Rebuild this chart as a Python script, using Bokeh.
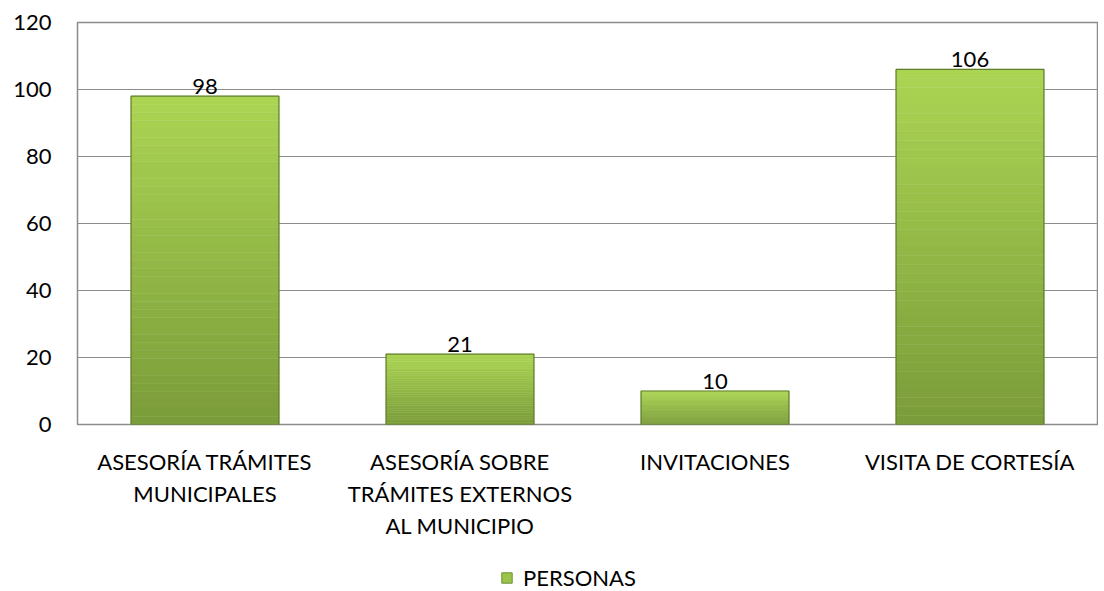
from bokeh.plotting import figure
from bokeh.layouts import column
from bokeh.models import ColumnDataSource, Legend, LegendItem, FactorRange, Range1d, FixedTicker
from bokeh.embed import file_html
from bokeh.resources import INLINE
from bokeh.core.properties import value
import numpy as np

categories = ["ASESORÍA TRÁMITES\nMUNICIPALES",
              "ASESORÍA SOBRE\nTRÁMITES EXTERNOS\nAL MUNICIPIO",
              "INVITACIONES",
              "VISITA DE CORTESÍA"]
values = [98, 21, 10, 106]
series_name = "PERSONAS"
y_ticks = [0, 20, 40, 60, 80, 100, 120]

FONT = "Lato"
TOP_RGB = np.array([0xAC, 0xD5, 0x54])
BOT_RGB = np.array([0x7B, 0x9C, 0x3A])

p = figure(x_range=FactorRange(factors=categories, range_padding=0),
           y_range=Range1d(0, 120),
           width=1098, height=560, output_backend="svg", toolbar_location=None,
           min_border_left=77, min_border_top=22, min_border_right=1,
           min_border_bottom=136)

# gradient bars built as slices of each bar
n = 40
xs, bots, tops, cols = [], [], [], []
for c, v in zip(categories, values):
    for i in range(n):
        xs.append(c)
        bots.append(v * i / n)
        tops.append(v * (i + 1) / n)
        t = (i + 0.5) / n
        rgb = (BOT_RGB * (1 - t) + TOP_RGB * t).astype(int)
        cols.append("#%02x%02x%02x" % tuple(rgb))
src = ColumnDataSource(dict(x=xs, bottom=bots, top=tops, color=cols))
p.vbar(x="x", bottom="bottom", top="top", width=0.58, source=src,
       fill_color="color", line_color="color", line_width=0.5)

# outline of each bar
bsrc = ColumnDataSource(dict(x=categories, top=values, lab=[str(v) for v in values]))
p.vbar(x="x", top="top", width=0.58, source=bsrc, fill_color=None,
       line_color="#5F7D2A", line_width=1.2)

p.text(x="x", y="top", text="lab", source=bsrc, text_align="center",
       text_baseline="bottom", text_font=value(FONT), text_font_size="22px",
       text_color="#000000", y_offset=-2)

p.yaxis.ticker = FixedTicker(ticks=y_ticks)
p.ygrid.ticker = FixedTicker(ticks=y_ticks)
p.ygrid.grid_line_color = "#8C8C8C"
p.xgrid.grid_line_color = None
p.outline_line_color = "#8C8C8C"
p.outline_line_width = 1.5

for ax in (p.xaxis, p.yaxis):
    ax.axis_line_color = None
    ax.major_tick_line_color = None
    ax.minor_tick_line_color = None
    ax.major_tick_out = 0
    ax.major_tick_in = 0
    ax.minor_tick_out = 0
    ax.major_label_text_font = FONT
    ax.major_label_text_font_size = "22px"
    ax.major_label_text_color = "#000000"

p.yaxis.major_label_standoff = 26
p.xaxis.major_label_standoff = 23

# legend strip below the chart (its swatch renderer lies outside the strip's visible range)
lp = figure(x_range=FactorRange(factors=categories), y_range=Range1d(1000, 1100),
            width=1098, height=31, output_backend="svg", toolbar_location=None,
            x_axis_location=None, y_axis_location=None,
            min_border=0, min_border_left=0, min_border_right=0,
            min_border_top=0, min_border_bottom=0)
lp.outline_line_color = None
lp.xgrid.visible = False
lp.ygrid.visible = False
leg_r = lp.vbar(x="x", top="top", width=0.58, source=bsrc,
                fill_color="#9BC44B", line_color="#6E8F32", line_width=1)
legend = Legend(items=[LegendItem(label=series_name, renderers=[leg_r])],
                orientation="horizontal", location=(423, 0),
                label_text_font=FONT, label_text_font_size="22px",
                label_text_color="#000000",
                glyph_width=13, glyph_height=13, border_line_color=None,
                background_fill_alpha=0,
                margin=0, padding=2, label_standoff=10)
lp.add_layout(legend, "center")

layout = column(p, lp, spacing=0)
open("out.html", "w").write(file_html(layout, INLINE))
